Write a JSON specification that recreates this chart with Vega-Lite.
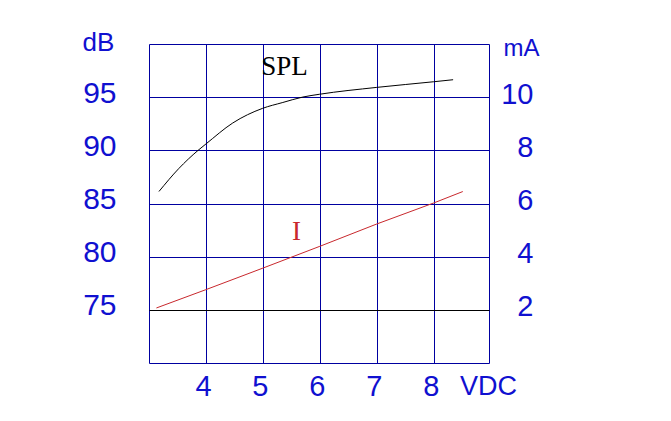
{
  "$schema": "https://vega.github.io/schema/vega-lite/v6.json",
  "width": 340,
  "height": 319,
  "autosize": "none",
  "padding": {"left": 149, "top": 44, "right": 182, "bottom": 58},
  "background": "white",
  "config": {
    "view": {"stroke": "#0000a0", "strokeWidth": 1},
    "axis": {
      "labelFont": "Liberation Sans Narrow, Liberation Sans, sans-serif",
      "titleFont": "Liberation Sans Narrow, Liberation Sans, sans-serif",
      "labelColor": "#1010d0",
      "titleColor": "#1010d0",
      "labelFontWeight": "normal",
      "titleFontWeight": "normal",
      "ticks": false,
      "tickSize": 0,
      "domain": false,
      "gridColor": "#0000a0",
      "gridWidth": 1,
      "gridOpacity": 1
    }
  },
  "layer": [
    {
      "layer": [
        {
          "data": {"values": [
            {"V": 3.175, "dB": 86.13},
            {"V": 3.52, "dB": 88.27},
            {"V": 3.86, "dB": 89.99},
            {"V": 4.0, "dB": 90.6},
            {"V": 4.47, "dB": 92.57},
            {"V": 4.99, "dB": 93.94},
            {"V": 5.35, "dB": 94.5},
            {"V": 5.7, "dB": 95.01},
            {"V": 5.99, "dB": 95.27},
            {"V": 7.0, "dB": 95.92},
            {"V": 8.0, "dB": 96.45},
            {"V": 8.34, "dB": 96.64}
          ]},
          "mark": {"type": "line", "color": "black", "strokeWidth": 1, "interpolate": "monotone"},
          "encoding": {
            "x": {
              "field": "V", "type": "quantitative",
              "scale": {"domain": [3, 8.97], "nice": false, "zero": false},
              "axis": {
                "values": [4, 5, 6, 7, 8],
                "format": "d",
                "grid": true,
                "labelFontSize": 29,
                "labelPadding": 9,
                "labelOffset": -3,
                "title": "VDC",
                "titleFontSize": 27,
                "titleAngle": 0,
                "titleAlign": "center",
                "titleBaseline": "middle",
                "titleX": 339,
                "titleY": 23
              }
            },
            "y": {
              "field": "dB", "type": "quantitative",
              "scale": {"domain": [70, 100], "nice": false, "zero": false},
              "axis": {
                "values": [75, 80, 85, 90, 95],
                "format": "d",
                "grid": true,
                "gridColor": {"condition": {"test": "datum.value == 75", "value": "black"}, "value": "#0000a0"},
                "labelFontSize": 30,
                "labelPadding": 33,
                "labelOffset": -4,
                "title": "dB",
                "titleFontSize": 26,
                "titleAngle": 0,
                "titleAlign": "center",
                "titleBaseline": "middle",
                "titleX": -51,
                "titleY": -2
              }
            }
          }
        },
        {
          "data": {"values": [
            {"V": 5.38, "dB": 97.82, "label": "SPL"},
            {"V": 5.59, "dB": 82.3, "label": "I"}
          ]},
          "mark": {"type": "text", "font": "Liberation Serif", "fontSize": 27, "baseline": "middle", "align": "center"},
          "encoding": {
            "x": {"field": "V", "type": "quantitative"},
            "y": {"field": "dB", "type": "quantitative"},
            "text": {"field": "label"},
            "color": {"field": "label", "type": "nominal", "scale": {"domain": ["SPL", "I"], "range": ["black", "#c8282d"]}, "legend": null}
          }
        }
      ]
    },
    {
      "data": {"values": [
        {"V": 3.13, "mA": 2.07},
        {"V": 4.0, "mA": 2.76},
        {"V": 5.0, "mA": 3.57},
        {"V": 6.0, "mA": 4.39},
        {"V": 7.0, "mA": 5.23},
        {"V": 8.0, "mA": 6.02},
        {"V": 8.51, "mA": 6.45}
      ]},
      "mark": {"type": "line", "color": "#c8282d", "strokeWidth": 1},
      "encoding": {
        "x": {"field": "V", "type": "quantitative"},
        "y": {
          "field": "mA", "type": "quantitative",
          "scale": {"domain": [0, 12], "nice": false, "zero": false},
          "axis": {
            "orient": "right",
            "values": [2, 4, 6, 8, 10],
            "format": "d",
            "grid": false,
            "labelFontSize": 29,
            "labelAlign": "right",
            "labelPadding": 44,
            "labelOffset": -3,
            "title": "mA",
            "titleFontSize": 24,
            "titleAngle": 0,
            "titleAlign": "center",
            "titleBaseline": "middle",
            "titleX": 32,
            "titleY": 4
          }
        }
      }
    }
  ],
  "resolve": {"scale": {"y": "independent"}}
}
